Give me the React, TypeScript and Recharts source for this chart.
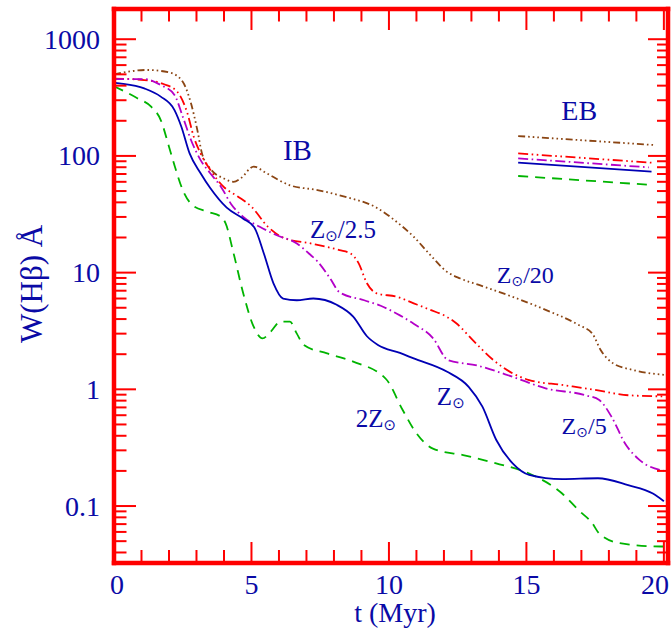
import React from 'react';
import { LineChart, Line, XAxis, YAxis, ReferenceDot } from 'recharts';

// ---------------- data (t in Myr, W(Hbeta) in Angstrom) ----------------
const ibZsun = [
  { t: 0, w: 425 }, { t: 0.2, w: 419 }, { t: 1.1, w: 379 }, { t: 1.7, w: 322 }, { t: 2.2, w: 247 },
  { t: 2.45, w: 178 }, { t: 2.75, w: 105 }, { t: 3.15, w: 71 }, { t: 3.5, w: 53 }, { t: 4.1, w: 36 },
  { t: 4.7, w: 29 }, { t: 5.1, w: 24.5 }, { t: 5.45, w: 14.6 }, { t: 5.8, w: 8.1 }, { t: 6.15, w: 6.0 },
  { t: 6.65, w: 5.8 }, { t: 7.25, w: 6.0 }, { t: 8.1, w: 5.3 }, { t: 8.7, w: 4.2 }, { t: 9.2, w: 2.85 },
  { t: 9.6, w: 2.4 }, { t: 10.4, w: 2.05 }, { t: 10.9, w: 1.84 }, { t: 12.1, w: 1.42 }, { t: 12.9, w: 1.05 },
  { t: 13.4, w: 0.71 }, { t: 13.9, w: 0.37 }, { t: 14.5, w: 0.232 }, { t: 15.1, w: 0.185 }, { t: 16.3, w: 0.17 },
  { t: 17.6, w: 0.173 }, { t: 18.7, w: 0.151 }, { t: 19.6, w: 0.128 }, { t: 20, w: 0.11 },
];
const ib2Zsun = [
  { t: 0, w: 395 }, { t: 0.85, w: 312 }, { t: 1.35, w: 264 }, { t: 1.7, w: 203 }, { t: 2.0, w: 120 },
  { t: 2.25, w: 76 }, { t: 2.5, w: 51 }, { t: 2.85, w: 38 }, { t: 3.4, w: 33.3 }, { t: 3.9, w: 30 },
  { t: 4.06, w: 26.4 }, { t: 4.35, w: 14.6 }, { t: 4.7, w: 6.65 }, { t: 5.08, w: 3.44 }, { t: 5.4, w: 2.73 },
  { t: 5.7, w: 3.12 }, { t: 6.05, w: 3.8 }, { t: 6.4, w: 3.8 }, { t: 6.65, w: 3.0 }, { t: 6.9, w: 2.4 },
  { t: 7.75, w: 2.03 }, { t: 8.7, w: 1.73 }, { t: 9.9, w: 1.22 }, { t: 10.5, w: 0.665 }, { t: 11.0, w: 0.42 },
  { t: 11.6, w: 0.31 }, { t: 12.7, w: 0.273 }, { t: 13.9, w: 0.232 }, { t: 15.1, w: 0.19 }, { t: 16.3, w: 0.128 },
  { t: 16.9, w: 0.092 }, { t: 17.4, w: 0.071 }, { t: 17.65, w: 0.058 }, { t: 18.4, w: 0.048 }, { t: 19.9, w: 0.045 },
  { t: 20, w: 0.045 },
];
const ibZsun25 = [
  { t: 0, w: 460 }, { t: 1.1, w: 447 }, { t: 1.8, w: 413 }, { t: 2.3, w: 355 }, { t: 2.67, w: 232 },
  { t: 2.9, w: 146 }, { t: 3.15, w: 105 }, { t: 3.5, w: 76 }, { t: 4.0, w: 54 }, { t: 4.5, w: 45 },
  { t: 5.0, w: 36.7 }, { t: 5.6, w: 24.7 }, { t: 6.2, w: 19.7 }, { t: 7.15, w: 17.8 }, { t: 8.2, w: 15.6 },
  { t: 8.6, w: 14.6 }, { t: 8.9, w: 12 }, { t: 9.2, w: 8.1 }, { t: 9.55, w: 6.65 }, { t: 10.3, w: 6.2 },
  { t: 10.9, w: 5.46 }, { t: 11.5, w: 4.8 }, { t: 12.1, w: 4.19 }, { t: 12.45, w: 3.68 }, { t: 13.05, w: 2.64 },
  { t: 13.8, w: 1.78 }, { t: 14.5, w: 1.37 }, { t: 15.1, w: 1.2 }, { t: 16.3, w: 1.09 }, { t: 17.5, w: 0.99 },
  { t: 18.7, w: 0.89 }, { t: 20, w: 0.87 },
];
const ibZsun5 = [
  { t: 0, w: 455 }, { t: 1.1, w: 455 }, { t: 1.7, w: 405 }, { t: 2.2, w: 333 }, { t: 2.5, w: 217 },
  { t: 2.8, w: 137 }, { t: 3.15, w: 92 }, { t: 3.5, w: 71 }, { t: 3.9, w: 54 }, { t: 4.25, w: 39 },
  { t: 4.7, w: 30 }, { t: 5.3, w: 24.7 }, { t: 5.9, w: 21 }, { t: 6.65, w: 17.8 }, { t: 7.1, w: 14.5 },
  { t: 7.4, w: 12.5 }, { t: 7.85, w: 9 }, { t: 8.2, w: 6.8 }, { t: 9.1, w: 5.8 }, { t: 9.7, w: 5.2 },
  { t: 10.4, w: 4.3 }, { t: 10.9, w: 3.65 }, { t: 11.6, w: 2.75 }, { t: 12.15, w: 1.78 }, { t: 13.2, w: 1.6 },
  { t: 14.5, w: 1.28 }, { t: 15.7, w: 1.02 }, { t: 17.15, w: 0.89 }, { t: 17.65, w: 0.81 }, { t: 18.1, w: 0.58 },
  { t: 18.6, w: 0.34 }, { t: 19.1, w: 0.25 }, { t: 20, w: 0.2 },
];
const ibZsun20 = [
  { t: 0, w: 500 }, { t: 1.2, w: 545 }, { t: 2.05, w: 516 }, { t: 2.5, w: 432 }, { t: 2.8, w: 282 },
  { t: 3.03, w: 167 }, { t: 3.2, w: 105 }, { t: 3.5, w: 78 }, { t: 4.0, w: 64 }, { t: 4.35, w: 60 },
  { t: 4.6, w: 64 }, { t: 5.08, w: 81 }, { t: 5.55, w: 71 }, { t: 6.4, w: 56 }, { t: 7.4, w: 51 },
  { t: 8.35, w: 45 }, { t: 9.55, w: 36 }, { t: 10.3, w: 27 }, { t: 10.9, w: 20.3 }, { t: 11.5, w: 14.2 },
  { t: 12.1, w: 10.2 }, { t: 12.6, w: 8.9 }, { t: 13.3, w: 7.8 }, { t: 14.5, w: 6.2 }, { t: 15.7, w: 4.8 },
  { t: 16.9, w: 3.56 }, { t: 17.4, w: 3.0 }, { t: 17.7, w: 2.17 }, { t: 18.15, w: 1.67 }, { t: 18.85, w: 1.47 },
  { t: 20, w: 1.33 },
];
const ebZsun20 = [{ t: 14.7, w: 148 }, { t: 19.65, w: 124 }];
const ebZsun25 = [{ t: 14.7, w: 105 }, { t: 19.55, w: 87.5 }];
const ebZsun5 = [{ t: 14.7, w: 95.3 }, { t: 19.45, w: 79.8 }];
const ebZsun = [{ t: 14.7, w: 87.5 }, { t: 19.55, w: 73.3 }];
const eb2Zsun = [{ t: 14.7, w: 67.3 }, { t: 19.55, w: 56.4 }];

const xTicks = [0, 1, 2, 3, 4, 5, 6, 7, 8, 9, 10, 11, 12, 13, 14, 15, 16, 17, 18, 19, 20];
const xTickLabels = [0, 5, 10, 15, 20];
const yTicks = [
  0.04, 0.05, 0.06, 0.07, 0.08, 0.09, 0.1, 0.2, 0.3, 0.4, 0.5, 0.6, 0.7, 0.8, 0.9,
  1, 2, 3, 4, 5, 6, 7, 8, 9, 10, 20, 30, 40, 50, 60, 70, 80, 90,
  100, 200, 300, 400, 500, 600, 700, 800, 900, 1000,
];
const yTickLabels = [0.1, 1, 10, 100, 1000];

const annotations = [
  { t: 6.67, w: 112, head: 'IB', sun: false, tail: '', size: 29 },
  { t: 16.92, w: 247, head: 'EB', sun: false, tail: '', size: 28 },
  { t: 8.33, w: 23.2, head: 'Z', sun: true, tail: '/2.5', size: 25 },
  { t: 14.96, w: 9.5, head: 'Z', sun: true, tail: '/20', size: 24 },
  { t: 12.25, w: 0.86, head: 'Z', sun: true, tail: '', size: 25 },
  { t: 9.53, w: 0.567, head: '2Z', sun: true, tail: '', size: 25 },
  { t: 17.1, w: 0.485, head: 'Z', sun: true, tail: '/5', size: 24 },
];

// ---------------- styling ----------------
const RED = '#ff0000';
const INK = '#0a0aa6';
const SERIF = '"Liberation Serif", "Times New Roman", serif';
const C_BLUE = '#0000b4';
const C_GREEN = '#00b400';
const C_RED = '#ff0000';
const C_MAG = '#b400c8';
const C_BROWN = '#8b4513';
const DASH_GREEN = '10 7';
const DASH_RED = '10 3.5 1.6 3.5 1.6 3.5';
const DASH_MAG = '10 3.5 1.6 3.5';
const DASH_BROWN = '7 3 1.6 3 1.6 3 1.6 3';

const X_DOMAIN: [number, number] = [0, 20.15];
const Y_DOMAIN: [number, number] = [0.0325, 1815];
const AXIS_LINE = { stroke: RED, strokeWidth: 4.5, strokeLinecap: 'square' as const };

const LeftTick = (p: any) => {
  const v = p.payload.value;
  const major = yTickLabels.includes(v);
  return (
    <g>
      <line x1={p.x} x2={p.x + (major ? 22 : 12.5)} y1={p.y} y2={p.y} stroke={RED} strokeWidth={2} />
      {major && (
        <text x={p.x - 14} y={p.y + 9.5} textAnchor="end" fontSize={28} fontFamily={SERIF} fill={INK}>
          {String(v)}
        </text>
      )}
    </g>
  );
};
const RightTick = (p: any) => {
  const major = yTickLabels.includes(p.payload.value);
  return <line x1={p.x} x2={p.x - (major ? 20 : 11)} y1={p.y} y2={p.y} stroke={RED} strokeWidth={2} />;
};
const BottomTick = (p: any) => {
  const v = p.payload.value;
  const major = xTickLabels.includes(v);
  const dx = v === 0 ? 3 : v === 20 ? -9 : 0;
  return (
    <g>
      <line x1={p.x} x2={p.x} y1={p.y} y2={p.y - (major ? 21 : 13)} stroke={RED} strokeWidth={2} />
      {major && (
        <text x={p.x + dx} y={p.y + 31} textAnchor="middle" fontSize={28} fontFamily={SERIF} fill={INK}>
          {String(v)}
        </text>
      )}
    </g>
  );
};
const TopTick = (p: any) => {
  const major = xTickLabels.includes(p.payload.value);
  return <line x1={p.x} x2={p.x} y1={p.y} y2={p.y + (major ? 21 : 12.5)} stroke={RED} strokeWidth={2} />;
};

const YTitle = (props: any) => {
  const vb = props.viewBox;
  const cx = vb.x + 42;
  const cy = vb.y + vb.height / 2 - 2;
  return (
    <text x={cx} y={cy} transform={`rotate(-90 ${cx} ${cy})`} textAnchor="middle" fontSize={31} fontFamily={SERIF} fill={INK}>
      W(Hβ) Å
    </text>
  );
};
const XTitle = (props: any) => {
  const vb = props.viewBox;
  return (
    <text x={vb.x + vb.width / 2 + 4} y={vb.y + 59} textAnchor="middle" fontSize={28} fontFamily={SERIF} fill={INK}>
      t (Myr)
    </text>
  );
};

const makeAnn = (a: any) => (props: any) => {
  const vb = props.viewBox;
  const cx = vb.x + (vb.width || 0) / 2;
  const cy = vb.y + (vb.height || 0) / 2;
  return (
    <text x={cx} y={cy + a.size * 0.34} textAnchor="middle" fontSize={a.size} fontFamily={SERIF} fill={INK}>
      {a.head}
      {a.sun && (
        <tspan fontFamily='"DejaVu Sans", sans-serif' fontSize={Math.round(a.size * 0.6)} dy={3}>
          ⊙
        </tspan>
      )}
      {a.tail && <tspan dy={a.sun ? -3 : 0}>{a.tail}</tspan>}
    </text>
  );
};

export default function App() {
  const common = { type: 'monotone' as const, dataKey: 'w', dot: false, isAnimationActive: false, strokeWidth: 1.8 };
  // EB segments are plotted against the top/right axes, which share the same domains as bottom/left
  const eb = { ...common, type: 'linear' as const, xAxisId: 'top', yAxisId: 'right' };
  return (
    <div style={{ position: 'absolute', left: 0, top: 0, width: 672, height: 633, background: '#fff' }}>
      <LineChart width={672} height={633} margin={{ top: 8, right: 3, bottom: 0, left: 0 }}>
        <XAxis
          dataKey="t" type="number" domain={X_DOMAIN} allowDataOverflow ticks={xTicks} interval={0}
          height={70} tickSize={0} tickMargin={0} tickLine={false} axisLine={AXIS_LINE}
          tick={BottomTick} label={XTitle}
        />
        <XAxis
          xAxisId="top" orientation="top" dataKey="t" type="number" domain={X_DOMAIN} allowDataOverflow
          ticks={xTicks} interval={0} height={1} tickSize={0} tickMargin={0} tickLine={false}
          axisLine={AXIS_LINE} tick={TopTick}
        />
        <YAxis
          type="number" scale="log" domain={Y_DOMAIN} allowDataOverflow ticks={yTicks} interval={0}
          width={114} tickSize={0} tickMargin={0} tickLine={false} axisLine={AXIS_LINE}
          tick={LeftTick} label={YTitle}
        />
        <YAxis
          yAxisId="right" orientation="right" type="number" scale="log" domain={Y_DOMAIN} allowDataOverflow
          ticks={yTicks} interval={0} width={1} tickSize={0} tickMargin={0} tickLine={false}
          axisLine={AXIS_LINE} tick={RightTick}
        />

        <Line {...common} data={ibZsun20} stroke={C_BROWN} strokeDasharray={DASH_BROWN} />
        <Line {...common} data={ibZsun25} stroke={C_RED} strokeDasharray={DASH_RED} />
        <Line {...common} data={ibZsun5} stroke={C_MAG} strokeDasharray={DASH_MAG} />
        <Line {...common} data={ib2Zsun} stroke={C_GREEN} strokeDasharray={DASH_GREEN} />
        <Line {...common} data={ibZsun} stroke={C_BLUE} />

        <Line {...eb} data={ebZsun20} stroke={C_BROWN} strokeDasharray={DASH_BROWN} />
        <Line {...eb} data={ebZsun25} stroke={C_RED} strokeDasharray={DASH_RED} />
        <Line {...eb} data={ebZsun5} stroke={C_MAG} strokeDasharray={DASH_MAG} />
        <Line {...eb} data={ebZsun} stroke={C_BLUE} />
        <Line {...eb} data={eb2Zsun} stroke={C_GREEN} strokeDasharray={DASH_GREEN} />

        {annotations.map((a, i) => (
          <ReferenceDot key={i} x={a.t} y={a.w} r={0} fill="none" stroke="none" label={makeAnn(a)} />
        ))}
      </LineChart>
    </div>
  );
}
